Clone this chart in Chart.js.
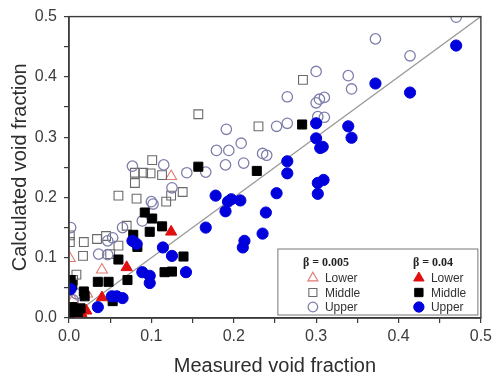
<!DOCTYPE html>
<html>
<head>
<meta charset="utf-8">
<script src="https://cdn.jsdelivr.net/npm/chart.js"></script>
<style>
  body { margin: 0; background: #fff; }
  #wrap { width: 496px; height: 378px; }
</style>
</head>
<body>
<div id="wrap"><canvas id="voidChart" width="496" height="378"></canvas></div>
<script>
// measured vs calculated void fraction, [measured, calculated]
// beta = 0.005 (open markers)
const lowerOpen = [[0.124, 0.235], [0.001, 0.099], [0.040, 0.080], [0.022, 0.040], [0.005, 0.030]];
const middleOpen = [
  [0.284, 0.395], [0.230, 0.318], [0.157, 0.338], [0.101, 0.262], [0.080, 0.241],
  [0.090, 0.241], [0.099, 0.240], [0.113, 0.237], [0.080, 0.224], [0.060, 0.203],
  [0.082, 0.198], [0.118, 0.193], [0.124, 0.203], [0.138, 0.209], [0.070, 0.153],
  [0.034, 0.131], [0.045, 0.136], [0.060, 0.120], [0.050, 0.106], [0.018, 0.126],
  [0.017, 0.103], [0.009, 0.072], [0.001, 0.137], [0.001, 0.126], [0.005, 0.063]
];
const upperOpen = [
  [0.470, 0.499], [0.372, 0.463], [0.414, 0.435], [0.300, 0.409], [0.339, 0.402],
  [0.343, 0.380], [0.265, 0.367], [0.310, 0.366], [0.304, 0.363], [0.300, 0.357],
  [0.310, 0.333], [0.302, 0.334], [0.265, 0.323], [0.252, 0.318], [0.235, 0.273],
  [0.240, 0.270], [0.191, 0.313], [0.179, 0.278], [0.194, 0.278], [0.209, 0.290],
  [0.190, 0.254], [0.212, 0.257], [0.077, 0.252], [0.115, 0.254], [0.143, 0.241],
  [0.166, 0.242], [0.125, 0.216], [0.100, 0.193], [0.102, 0.189], [0.089, 0.161],
  [0.065, 0.150], [0.053, 0.133], [0.047, 0.128], [0.036, 0.106], [0.047, 0.105],
  [0.002, 0.150], [0.005, 0.030], [0.009, 0.040]
];
// beta = 0.04 (filled markers)
const lowerFilled = [[0.124, 0.143], [0.070, 0.084], [0.040, 0.034], [0.021, 0.012], [0.015, 0.008], [0.007, 0.006]];
const middleFilled = [
  [0.283, 0.321], [0.228, 0.244], [0.157, 0.251], [0.092, 0.175], [0.101, 0.165],
  [0.098, 0.143], [0.113, 0.152], [0.078, 0.138], [0.083, 0.118], [0.060, 0.097],
  [0.139, 0.102], [0.116, 0.076], [0.125, 0.077], [0.071, 0.063], [0.035, 0.060],
  [0.048, 0.060], [0.018, 0.044], [0.019, 0.036], [0.053, 0.028], [0.004, 0.055],
  [0.004, 0.018], [0.011, 0.010], [0.001, 0.008], [0.014, 0.016], [0.002, 0.063]
];
const upperFilled = [
  [0.470, 0.452], [0.372, 0.389], [0.414, 0.374], [0.339, 0.318], [0.343, 0.299],
  [0.300, 0.323], [0.300, 0.298], [0.305, 0.282], [0.308, 0.284], [0.265, 0.260],
  [0.265, 0.240], [0.302, 0.224], [0.309, 0.229], [0.302, 0.206], [0.252, 0.207],
  [0.239, 0.175], [0.235, 0.140], [0.178, 0.203], [0.193, 0.193], [0.197, 0.197],
  [0.208, 0.195], [0.190, 0.177], [0.166, 0.150], [0.213, 0.128], [0.211, 0.117],
  [0.114, 0.117], [0.125, 0.103], [0.142, 0.076], [0.089, 0.076], [0.098, 0.070],
  [0.098, 0.058], [0.077, 0.128], [0.082, 0.123], [0.035, 0.018], [0.052, 0.036],
  [0.058, 0.036], [0.065, 0.033], [0.002, 0.048]
];
const parityLine = [0, 0.5];
const axisTicks = [0.0, 0.1, 0.2, 0.3, 0.4, 0.5];

const toXY = arr => arr.map(p => ({ x: p[0], y: p[1] }));

const styles = {
  lowerOpen:    { pointStyle: 'triangle', radius: 6.3, borderColor: '#e07a72', backgroundColor: 'rgba(0,0,0,0)', borderWidth: 1.1 },
  middleOpen:   { pointStyle: 'rect',     radius: 6.2, borderColor: '#6a6a6a', backgroundColor: 'rgba(0,0,0,0)', borderWidth: 1.1 },
  upperOpen:    { pointStyle: 'circle',   radius: 5.2, borderColor: '#7e7eac', backgroundColor: 'rgba(0,0,0,0)', borderWidth: 1.3 },
  lowerFilled:  { pointStyle: 'triangle', radius: 6.5, borderColor: '#e01010', backgroundColor: '#e01010', borderWidth: 1 },
  middleFilled: { pointStyle: 'rect',     radius: 6.4, borderColor: '#000000', backgroundColor: '#000000', borderWidth: 1 },
  upperFilled:  { pointStyle: 'circle',   radius: 5.6, borderColor: '#0000dc', backgroundColor: '#0000dc', borderWidth: 1 }
};

function scatterSet(label, data, st, order) {
  return {
    type: 'scatter',
    label: label,
    data: toXY(data),
    pointStyle: st.pointStyle,
    pointRadius: st.radius,
    pointHoverRadius: st.radius,
    pointBorderColor: st.borderColor,
    pointBackgroundColor: st.backgroundColor,
    pointBorderWidth: st.borderWidth,
    order: order
  };
}

// box round the plot plus the two-column legend in the lower right
const framePlugin = {
  id: 'frame',
  afterDatasetsDraw(chart) {
    const { ctx, chartArea: a } = chart;
    ctx.save();
    ctx.strokeStyle = '#3a3a3a';
    ctx.lineWidth = 1.4;
    ctx.strokeRect(a.left, a.top, a.right - a.left, a.bottom - a.top);

    const bx = a.right - 203, by = a.bottom - 69, bw = 200, bh = 66;
    ctx.fillStyle = '#fff';
    ctx.fillRect(bx, by, bw, bh);
    ctx.strokeStyle = '#777';
    ctx.lineWidth = 1;
    ctx.strokeRect(bx, by, bw, bh);

    ctx.fillStyle = '#222';
    ctx.font = 'bold 12px "Liberation Serif", serif';
    ctx.textBaseline = 'middle';
    ctx.textAlign = 'left';
    ctx.fillText('\u03b2 = 0.005', bx + 25, by + 14);
    ctx.fillText('\u03b2 = 0.04', bx + 135, by + 14);

    const rows = ['Lower', 'Middle', 'Upper'];
    const cols = [
      { x: bx + 35, keys: ['lowerOpen', 'middleOpen', 'upperOpen'] },
      { x: bx + 141, keys: ['lowerFilled', 'middleFilled', 'upperFilled'] }
    ];
    ctx.font = '12px "Liberation Sans", Arial, sans-serif';
    cols.forEach(col => {
      col.keys.forEach((k, i) => {
        const st = styles[k];
        const y = by + 29 + i * 14.5;
        ctx.fillStyle = st.backgroundColor;
        ctx.strokeStyle = st.borderColor;
        ctx.lineWidth = st.borderWidth;
        Chart.helpers.drawPoint(ctx, {
          pointStyle: st.pointStyle,
          radius: st.radius * 0.92,
          borderWidth: st.borderWidth,
          rotation: 0
        }, col.x, y);
        ctx.fillStyle = '#333';
        ctx.fillText(rows[i], col.x + 12, y + 1);
      });
    });
    ctx.restore();
  }
};

const tickLabel = (v, i) => (i % 2 === 0 ? axisTicks[i / 2].toFixed(1) : '');

const ctx = document.getElementById('voidChart').getContext('2d');
const chart = new Chart(ctx, {
  type: 'scatter',
  data: {
    datasets: [
      {
        type: 'line',
        label: 'parity',
        data: parityLine.map(v => ({ x: v, y: v })),
        borderColor: '#9a9a9a',
        borderWidth: 1.3,
        pointRadius: 0,
        fill: false,
        order: 10
      },
      scatterSet('Lower 0.005', lowerOpen, styles.lowerOpen, 5),
      scatterSet('Middle 0.005', middleOpen, styles.middleOpen, 4),
      scatterSet('Upper 0.005', upperOpen, styles.upperOpen, 3),
      scatterSet('Lower 0.04', lowerFilled, styles.lowerFilled, 2),
      scatterSet('Middle 0.04', middleFilled, styles.middleFilled, 1),
      scatterSet('Upper 0.04', upperFilled, styles.upperFilled, 0)
    ]
  },
  options: {
    responsive: false,
    animation: false,
    layout: { padding: { top: 14, right: 13, left: 0, bottom: 0 } },
    plugins: {
      legend: { display: false },
      tooltip: { enabled: false }
    },
    scales: {
      x: {
        type: 'linear',
        min: 0,
        max: 0.5,
        afterFit: s => { s.height = 60; },
        grid: { drawOnChartArea: false, tickLength: 5, color: '#3a3a3a', lineWidth: 1.2 },
        border: { color: '#3a3a3a', width: 1.4 },
        ticks: {
          stepSize: 0.05,
          autoSkip: false,
          maxRotation: 0,
          padding: 4,
          color: '#3c3c3c',
          font: { family: '"Liberation Sans", Arial, sans-serif', size: 16 },
          callback: tickLabel
        },
        title: {
          display: true,
          text: 'Measured void fraction',
          color: '#2e2e2e',
          padding: { top: 0, bottom: 0 },
          font: { family: '"Liberation Sans", Arial, sans-serif', size: 20 }
        }
      },
      y: {
        type: 'linear',
        min: 0,
        max: 0.5,
        afterFit: s => { s.width = 69; },
        grid: { drawOnChartArea: false, tickLength: 5, color: '#3a3a3a', lineWidth: 1.2 },
        border: { color: '#3a3a3a', width: 1.4 },
        ticks: {
          stepSize: 0.05,
          autoSkip: false,
          padding: 7,
          color: '#3c3c3c',
          font: { family: '"Liberation Sans", Arial, sans-serif', size: 16 },
          callback: tickLabel
        },
        title: {
          display: true,
          text: 'Calculated void fraction',
          color: '#2e2e2e',
          padding: { top: 8, bottom: 0 },
          font: { family: '"Liberation Sans", Arial, sans-serif', size: 20 }
        }
      }
    }
  },
  plugins: [framePlugin]
});
</script>
</body>
</html>
